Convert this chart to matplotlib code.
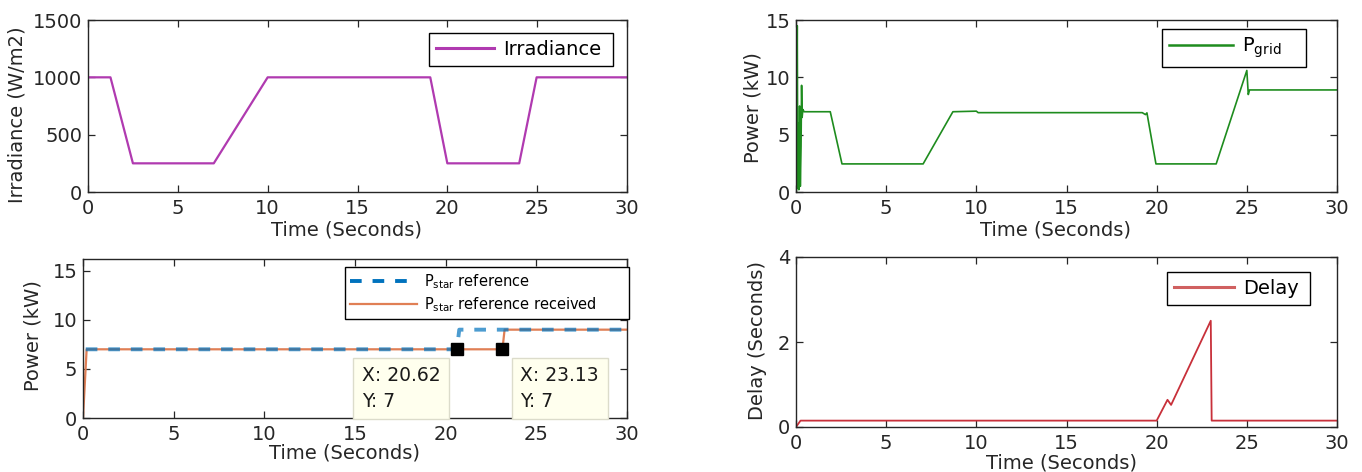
import matplotlib
matplotlib.use("Agg")
import matplotlib.pyplot as plt

# ===============================
# DATA
# ===============================
irr_t = [0, 1.25, 2.5, 7.0, 10.0, 19.05, 20.0, 24.0, 24.97, 30]
irr_v = [1000, 1000, 250, 250, 1000, 1000, 250, 250, 1000, 1000]

grid_t = [0.02, 0.07, 0.1, 0.13, 0.16, 0.2, 0.24, 0.28, 0.31, 0.34, 0.38, 0.45,
          1.9, 2.55, 7.05, 8.7, 10.0, 10.1, 19.2, 19.38, 19.46, 19.96,
          23.3, 25.0, 25.08, 25.15, 30]
grid_v = [0, 14.5, 0.3, 6.0, 0.2, 7.5, 0.5, 4.0, 9.3, 6.5, 7.2, 7.0,
          7.0, 2.45, 2.45, 7.0, 7.05, 6.92, 6.92, 6.75, 6.9, 2.45,
          2.45, 10.6, 8.5, 8.9, 8.9]

pref_t = [0.15, 20.62, 20.75, 30]
pref_v = [7, 7, 9, 9]

prec_t = [0, 0.2, 23.13, 23.25, 30]
prec_v = [0, 7, 7, 9, 9]

tips_x = [20.62, 23.13]
tips_y = [7, 7]

delay_t = [0, 0.25, 20.0, 20.6, 20.8, 23.0, 23.05, 30]
delay_v = [0, 0.15, 0.15, 0.64, 0.52, 2.5, 0.15, 0.15]

X_TICKS = [0, 5, 10, 15, 20, 25, 30]

# ===============================
# STYLE
# ===============================
plt.rcParams["font.family"] = ["DejaVu Sans"]
plt.rcParams["mathtext.fontset"] = "dejavusans"
plt.rcParams["axes.edgecolor"] = "#262626"
plt.rcParams["axes.linewidth"] = 1.0

FIG_W, FIG_H = 1362, 472
FS = 14


def px_axes(fig, left, top, right, bottom):
    return fig.add_axes([left / FIG_W, 1 - bottom / FIG_H,
                         (right - left) / FIG_W, (bottom - top) / FIG_H])


def style_axes(ax, yticks, ylim, ylabel, ylab_xy, xlab_xy):
    ax.set_xlim(0, 30)
    ax.set_ylim(*ylim)
    ax.set_xticks(X_TICKS)
    ax.set_yticks(yticks)
    ax.tick_params(direction="in", length=5, width=0.9, top=True, right=True,
                   labelsize=FS, colors="#262626", pad=5)
    ax.tick_params(axis="y", pad=4)
    ax.set_xlabel("Time (Seconds)", fontsize=FS, color="#262626", va="center")
    ax.xaxis.set_label_coords(*xlab_xy)
    ax.set_ylabel(ylabel, fontsize=FS, color="#262626", va="center")
    ax.yaxis.set_label_coords(*ylab_xy)


def add_legend(ax, x0, w, top, fontsize, hlen, handles=None, labels=None):
    if handles is None:
        handles, labels = ax.get_legend_handles_labels()
    leg = ax.legend(handles, labels, loc="upper left",
                    bbox_to_anchor=(x0, 0, w, top), mode="expand",
                    borderaxespad=0, fancybox=False, edgecolor="black",
                    framealpha=1, fontsize=fontsize, handlelength=hlen,
                    handletextpad=0.45, borderpad=0.35, labelspacing=0.3)
    leg.get_frame().set_linewidth(1.0)
    leg.set_zorder(12)
    return leg


def main():
    fig = plt.figure(figsize=(FIG_W / 100, FIG_H / 100), dpi=100)

    # ---- irradiance ----
    ax1 = px_axes(fig, 88, 20, 627, 192)
    ax1.plot(irr_t, irr_v, color="#B03AB0", lw=1.6, label="Irradiance")
    style_axes(ax1, [0, 500, 1000, 1500], (0, 1500), "Irradiance (W/m2)",
               (-0.132, 0.45), (0.48, -0.22))
    leg = add_legend(ax1, 0.633, 0.341, 0.924, FS, 3.0)
    for h in leg.legend_handles:
        h.set_linewidth(2.2)

    # ---- grid power ----
    ax2 = px_axes(fig, 796, 20, 1337, 192)
    ax2.plot(grid_t, grid_v, color="#1E8C1E", lw=1.2,
             label=r"$\mathrm{P_{grid}}$")
    style_axes(ax2, [0, 5, 10, 15], (0, 15), "Power (kW)",
               (-0.079, 0.49), (0.479, -0.22))
    leg = add_legend(ax2, 0.677, 0.266, 0.948, FS, 3.3)
    for h in leg.legend_handles:
        h.set_linewidth(1.8)

    # ---- P_star reference ----
    ax3 = px_axes(fig, 83, 259, 627, 418)
    l_rec, = ax3.plot(prec_t, prec_v, color="#E07F55", lw=1.6, zorder=2)
    l_ref, = ax3.plot(pref_t, pref_v, color="#0072BD", lw=2.8,
                      dashes=(3.0, 2.8), alpha=0.7, zorder=3)
    ax3.plot(tips_x, tips_y, ls="none", marker="s", ms=8.5, mfc="black",
             mec="black", zorder=6)
    style_axes(ax3, [0, 5, 10, 15], (0, 16.2), "Power (kW)",
               (-0.092, 0.516), (0.48, -0.22))
    leg = add_legend(ax3, 0.482, 0.522, 0.95, 10.5, 4.6,
                     handles=[l_ref, l_rec],
                     labels=[r"$\mathrm{P_{star}}$ reference",
                             r"$\mathrm{P_{star}}$ reference received"])
    leg.legend_handles[0].set_alpha(1.0)

    # data tips
    for i, (tx, ty) in enumerate(zip(tips_x, tips_y)):
        txt = f"X: {tx:.2f}\nY: {ty:g}"
        if i == 0:
            off, ha = (-12, -12), "right"
        else:
            off, ha = (13, -12), "left"
        ax3.annotate(txt, xy=(tx, ty), xytext=off, textcoords="offset points",
                     ha=ha, va="top", multialignment="left", fontsize=13.5,
                     color="#1a1a1a", linespacing=1.45, annotation_clip=False,
                     zorder=10,
                     bbox=dict(boxstyle="square,pad=0.45", fc="#FFFFEE",
                               ec="#DCDCCB", lw=1.0))

    # ---- delay ----
    ax4 = px_axes(fig, 796, 257, 1337, 427)
    ax4.plot(delay_t, delay_v, color="#C8303A", lw=1.3, label="Delay")
    style_axes(ax4, [0, 2, 4], (0, 4), "Delay (Seconds)",
               (-0.072, 0.51), (0.49, -0.212))
    leg = add_legend(ax4, 0.686, 0.264, 0.912, FS, 3.1)
    for h in leg.legend_handles:
        h.set_linewidth(2.2)
        h.set_color("#D06060")

    fig.savefig("out.png", dpi=100, facecolor="white")


if __name__ == "__main__":
    main()
